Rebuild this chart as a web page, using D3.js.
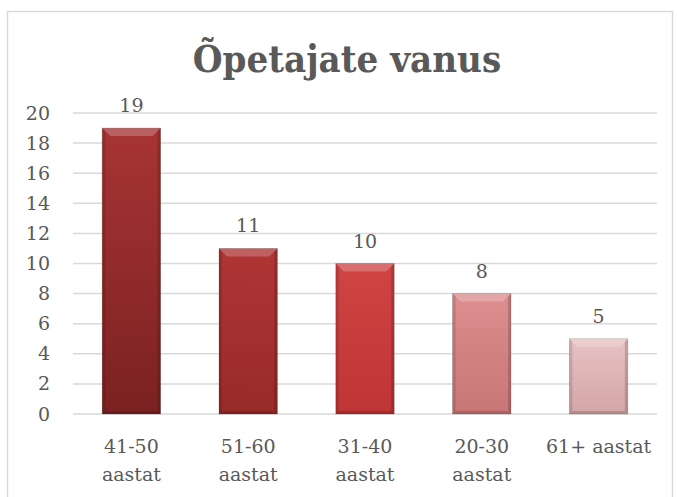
<!DOCTYPE html>
<html>
<head>
<meta charset="utf-8">
<script src="https://cdn.jsdelivr.net/npm/d3@7"></script>
<style>
  body { margin: 0; background: #fff; }
  text { font-family: "DejaVu Serif", serif; fill: #595959; }
</style>
</head>
<body>
<svg id="chart"></svg>
<script>
var title = "Õpetajate vanus";
var categories = ["41-50 aastat", "51-60 aastat", "31-40 aastat", "20-30 aastat", "61+ aastat"];
var values = [19, 11, 10, 8, 5];
var yTicks = [0, 2, 4, 6, 8, 10, 12, 14, 16, 18, 20];
var topColors = ["#a83434", "#b03535", "#d04444", "#dd8e8e", "#e9c2c3"];
var bottomColors = ["#7b2121", "#982a2a", "#bf3434", "#c87575", "#d3a5a7"];

var width = 677, height = 497;
var plotLeft = 73, plotRight = 657, plotTop = 113, plotBottom = 414;

var svg = d3.select("#chart")
	.attr("width", width)
	.attr("height", height);

// frame
svg.append("rect")
	.attr("x", 7.5).attr("y", 11.5)
	.attr("width", 665).attr("height", 500)
	.attr("fill", "none")
	.attr("stroke", "#d9d9d9")
	.attr("stroke-width", 1.5);

svg.append("text")
	.attr("x", 347).attr("y", 72)
	.attr("text-anchor", "middle")
	.style("font-family", "'DejaVu Serif Condensed', 'DejaVu Serif', serif")
	.style("font-weight", "bold")
	.style("font-size", "38px")
	.text(title);

var x = d3.scaleBand()
	.domain(categories)
	.range([plotLeft, plotRight])
	.paddingInner(0.5)
	.paddingOuter(0.25);

var y = d3.scaleLinear()
	.domain([0, 20])
	.range([plotBottom, plotTop]);

// gridlines
svg.append("g").selectAll("line")
	.data(yTicks)
	.enter()
	.append("line")
	.attr("x1", plotLeft).attr("x2", plotRight)
	.attr("y1", function(d) { return y(d); })
	.attr("y2", function(d) { return y(d); })
	.attr("stroke", "#d9d9d9")
	.attr("stroke-width", 1.5);

// y axis labels
var yAxis = d3.axisLeft(y).tickValues(yTicks).tickSize(0).tickPadding(23);
var gy = svg.append("g").attr("transform", "translate(" + plotLeft + ",0)").call(yAxis);
gy.select(".domain").remove();
gy.selectAll("text")
	.style("font-family", "'DejaVu Serif', serif")
	.style("font-size", "19px")
	.attr("fill", "#595959");

// gradients
var defs = svg.append("defs");
values.forEach(function(v, i) {
	var g = defs.append("linearGradient")
		.attr("id", "grad" + i)
		.attr("x1", 0).attr("y1", 0).attr("x2", 0).attr("y2", 1);
	g.append("stop").attr("offset", "0%").attr("stop-color", topColors[i]);
	g.append("stop").attr("offset", "100%").attr("stop-color", bottomColors[i]);
});

var bars = svg.append("g").selectAll("g")
	.data(values)
	.enter()
	.append("g");

bars.append("rect")
	.attr("x", function(d, i) { return x(categories[i]); })
	.attr("y", function(d) { return y(d); })
	.attr("width", x.bandwidth())
	.attr("height", function(d) { return y(0) - y(d); })
	.attr("fill", function(d, i) { return "url(#grad" + i + ")"; })
	.attr("stroke", "rgba(0,0,0,0.2)")
	.attr("stroke-width", 0.8);

// bevel: top light, sides and bottom a bit darker
var bev = 8;
bars.append("polygon")
	.attr("points", function(d, i) {
		var x0 = x(categories[i]), x1 = x0 + x.bandwidth(), y0 = y(d);
		return [[x0, y0], [x1, y0], [x1 - bev, y0 + bev], [x0 + bev, y0 + bev]].join(" ");
	})
	.attr("fill", "rgba(255,255,255,0.22)");

bars.append("polygon")
	.attr("points", function(d, i) {
		var x0 = x(categories[i]), y0 = y(d), yb = y(0);
		return [[x0, y0], [x0 + 3, y0 + 3], [x0 + 3, yb - 3], [x0, yb]].join(" ");
	})
	.attr("fill", "rgba(0,0,0,0.12)");

bars.append("polygon")
	.attr("points", function(d, i) {
		var x1 = x(categories[i]) + x.bandwidth(), y0 = y(d), yb = y(0);
		return [[x1, y0], [x1 - 3, y0 + 3], [x1 - 3, yb - 3], [x1, yb]].join(" ");
	})
	.attr("fill", "rgba(0,0,0,0.16)");

bars.append("polygon")
	.attr("points", function(d, i) {
		var x0 = x(categories[i]), x1 = x0 + x.bandwidth(), yb = y(0);
		return [[x0, yb], [x1, yb], [x1 - 3, yb - 3], [x0 + 3, yb - 3]].join(" ");
	})
	.attr("fill", "rgba(0,0,0,0.15)");

// value labels
bars.append("text")
	.attr("x", function(d, i) { return x(categories[i]) + x.bandwidth() / 2; })
	.attr("y", function(d) { return y(d) - 16; })
	.attr("text-anchor", "middle")
	.style("font-size", "19px")
	.text(function(d) { return d; });

// category labels, wrapped when wider than the band
var step = x.step();
categories.forEach(function(c, i) {
	var cx = x(c) + x.bandwidth() / 2;
	var t = svg.append("text")
		.attr("x", cx).attr("y", 453)
		.attr("text-anchor", "middle")
		.style("font-size", "19px")
		.text(c);
	if (t.node().getComputedTextLength() > step - 4) {
		var parts = c.split(" ");
		t.text(null);
		parts.forEach(function(p, j) {
			t.append("tspan").attr("x", cx).attr("y", 453 + j * 28).text(p);
		});
	}
});
</script>
</body>
</html>
